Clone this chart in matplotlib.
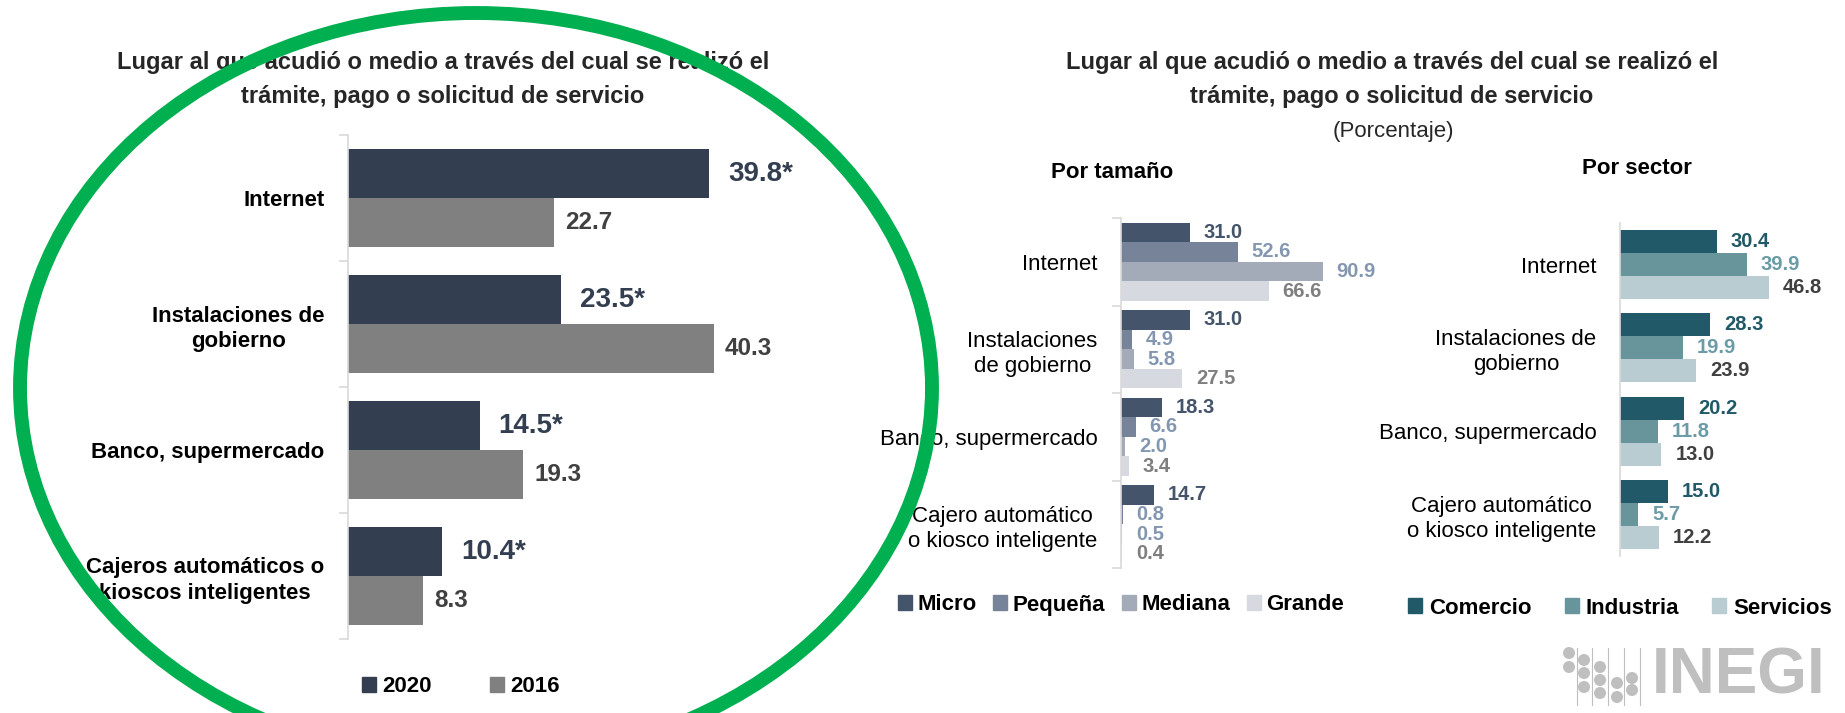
import matplotlib
matplotlib.use("Agg")
import matplotlib.pyplot as plt
from matplotlib.patches import Patch, Ellipse, Circle

plt.rcParams["font.family"] = ["Liberation Sans", "DejaVu Sans"]

W, H = 1845, 713

# --- datos: comparación 2020 vs 2016 ---
lugares_izq = ["Internet", "Instalaciones de\ngobierno", "Banco, supermercado",
               "Cajeros automáticos o\nkioscos inteligentes"]
v2020 = [39.8, 23.5, 14.5, 10.4]
v2016 = [22.7, 40.3, 19.3, 8.3]
anios = ["2020", "2016"]

# --- datos: por tamaño ---
lugares_tam = ["Internet", "Instalaciones\nde gobierno", "Banco, supermercado",
               "Cajero automático\no kiosco inteligente"]
tamanos = ["Micro", "Pequeña", "Mediana", "Grande"]
micro = [31.0, 31.0, 18.3, 14.7]
pequena = [52.6, 4.9, 6.6, 0.8]
mediana = [90.9, 5.8, 2.0, 0.5]
grande = [66.6, 27.5, 3.4, 0.4]

# --- datos: por sector ---
lugares_sec = ["Internet", "Instalaciones de\ngobierno", "Banco, supermercado",
               "Cajero automático\no kiosco inteligente"]
sectores = ["Comercio", "Industria", "Servicios"]
comercio = [30.4, 28.3, 20.2, 15.0]
industria = [39.9, 19.9, 11.8, 5.7]
servicios = [46.8, 23.9, 13.0, 12.2]


def rect(x0, y0, x1, y1):
    # pixeles (origen arriba a la izquierda) -> fracción de figura
    return [x0 / W, 1 - y1 / H, (x1 - x0) / W, (y1 - y0) / H]


def fxy(x, y):
    return x / W, 1 - y / H


def estilo(ax, cats, fs, weight, separadores=True):
    for s in ["top", "right", "bottom"]:
        ax.spines[s].set_visible(False)
    ax.spines["left"].set_color("#D9D9D9")
    ax.spines["left"].set_linewidth(1.2)
    ax.set_xticks([])
    ax.set_yticks(range(len(cats)))
    ax.set_yticklabels(cats, fontsize=fs, fontweight=weight, color="black")
    for t in ax.get_yticklabels():
        t.set_multialignment("center")
        t.set_linespacing(1.25)
    ax.tick_params(axis="y", which="major", length=0, pad=17)
    if separadores:
        ax.set_yticks([i - 0.5 for i in range(len(cats) + 1)], minor=True)
        ax.tick_params(axis="y", which="minor", length=6.5, color="#D9D9D9", width=1.2)
    ax.set_ylim(len(cats) - 0.5, -0.5)
    ax.patch.set_alpha(0)


fig = plt.figure(figsize=(W / 100, H / 100), dpi=100)

# ================= panel izquierdo =================
ax1 = fig.add_axes(rect(348, 135, 802, 639))
y = list(range(len(lugares_izq)))
h = 0.385
ax1.barh([i - h / 2 for i in y], v2020, height=h, color="#333F50")
ax1.barh([i + h / 2 for i in y], v2016, height=h, color="#808080")
for i in y:
    ax1.annotate(f"{v2020[i]:.1f}*", (v2020[i], i - h / 2), xytext=(13.5, 0),
                 textcoords="offset points", va="center", ha="left",
                 fontsize=20, fontweight="bold", color="#333F50")
    ax1.annotate(f"{v2016[i]:.1f}", (v2016[i], i + h / 2), xytext=(8, 0),
                 textcoords="offset points", va="center", ha="left",
                 fontsize=17.5, fontweight="bold", color="#404040")
ax1.set_xlim(0, 50)
estilo(ax1, lugares_izq, 16, "bold")

fig.text(*fxy(443, 62), "Lugar al que acudió o medio a través del cual se realizó el",
         ha="center", va="center", fontsize=17, fontweight="bold", color="#262626")
fig.text(*fxy(443, 97), "trámite, pago o solicitud de servicio",
         ha="center", va="center", fontsize=17, fontweight="bold", color="#262626")

fig.legend(handles=[Patch(color="#333F50"), Patch(color="#808080")], labels=anios,
           loc="center", bbox_to_anchor=fxy(461, 687), ncol=2, frameon=False,
           prop={"size": 16, "weight": "bold"}, handlelength=0.63, handleheight=0.63,
           handletextpad=0.3, columnspacing=2.6)

# ================= panel derecho: títulos =================
fig.text(*fxy(1392, 62), "Lugar al que acudió o medio a través del cual se realizó el",
         ha="center", va="center", fontsize=17, fontweight="bold", color="#262626")
fig.text(*fxy(1392, 97), "trámite, pago o solicitud de servicio",
         ha="center", va="center", fontsize=17, fontweight="bold", color="#262626")
fig.text(*fxy(1393, 132), "(Porcentaje)", ha="center", va="center", fontsize=16,
         color="#262626")
fig.text(*fxy(1112, 173), "Por tamaño", ha="center", va="center", fontsize=16,
         fontweight="bold", color="black")
fig.text(*fxy(1637, 168), "Por sector", ha="center", va="center", fontsize=16,
         fontweight="bold", color="black")

# ================= por tamaño =================
ax2 = fig.add_axes(rect(1121, 218, 1343, 568))
col_tam = ["#44546A", "#768398", "#A4ABB8", "#D6DAE0"]
col_tam_txt = ["#44546A", "#8497B0", "#8497B0", "#7F7F7F"]
series_tam = [micro, pequena, mediana, grande]
h2 = 0.223
for k, serie in enumerate(series_tam):
    off = (k - 1.5) * h2
    ax2.barh([i + off for i in y], serie, height=h2, color=col_tam[k])
    for i in y:
        ax2.annotate(f"{serie[i]:.1f}", (serie[i], i + off), xytext=(10, 0),
                     textcoords="offset points", va="center", ha="left",
                     fontsize=14.5, fontweight="bold", color=col_tam_txt[k])
ax2.set_xlim(0, 100)
estilo(ax2, lugares_tam, 16, "normal")

fig.legend(handles=[Patch(color=c) for c in col_tam], labels=tamanos,
           loc="center", bbox_to_anchor=fxy(1121, 605), ncol=4, frameon=False,
           prop={"size": 16, "weight": "bold"}, handlelength=0.63, handleheight=0.63,
           handletextpad=0.25, columnspacing=0.75)

# ================= por sector =================
ax3 = fig.add_axes(rect(1620, 223, 1811, 556))
col_sec = ["#215968", "#68949C", "#B8CCD2"]
col_sec_txt = ["#215968", "#6B9BA6", "#404040"]
series_sec = [comercio, industria, servicios]
h3 = 0.276
for k, serie in enumerate(series_sec):
    off = (k - 1) * h3
    ax3.barh([i + off for i in y], serie, height=h3, color=col_sec[k])
    for i in y:
        ax3.annotate(f"{serie[i]:.1f}", (serie[i], i + off), xytext=(10, 0),
                     textcoords="offset points", va="center", ha="left",
                     fontsize=14.5, fontweight="bold", color=col_sec_txt[k])
ax3.set_xlim(0, 60)
estilo(ax3, lugares_sec, 16, "normal", separadores=False)

fig.legend(handles=[Patch(color=c) for c in col_sec], labels=sectores,
           loc="center", bbox_to_anchor=fxy(1620, 608), ncol=3, frameon=False,
           prop={"size": 16, "weight": "bold"}, handlelength=0.63, handleheight=0.63,
           handletextpad=0.3, columnspacing=1.5)

# ================= capa superior: óvalo y logo =================
ov = fig.add_axes([0, 0, 1, 1], zorder=10)
ov.set_xlim(0, W)
ov.set_ylim(H, 0)
ov.axis("off")
ov.patch.set_alpha(0)
ov.add_patch(Ellipse((476, 388), 912, 750, fill=False, ec="#00B050", lw=10))

gris = "#BFBFBF"
puntos = [(1569, 653), (1569, 667), (1584, 660), (1584, 673), (1584, 687),
          (1600, 667), (1600, 680), (1600, 693), (1617, 683), (1617, 697),
          (1632, 678), (1632, 690)]
for px, py in puntos:
    ov.add_patch(Circle((px, py), 6, color=gris, lw=0))
for lx in [1577, 1592, 1608, 1624, 1640]:
    ov.plot([lx, lx], [648, 705], color=gris, lw=0.8)
ov.text(1652, 676, "INEGI", ha="left", va="center", fontsize=46,
        fontweight="bold", color=gris)

fig.savefig("out.png", dpi=100)
